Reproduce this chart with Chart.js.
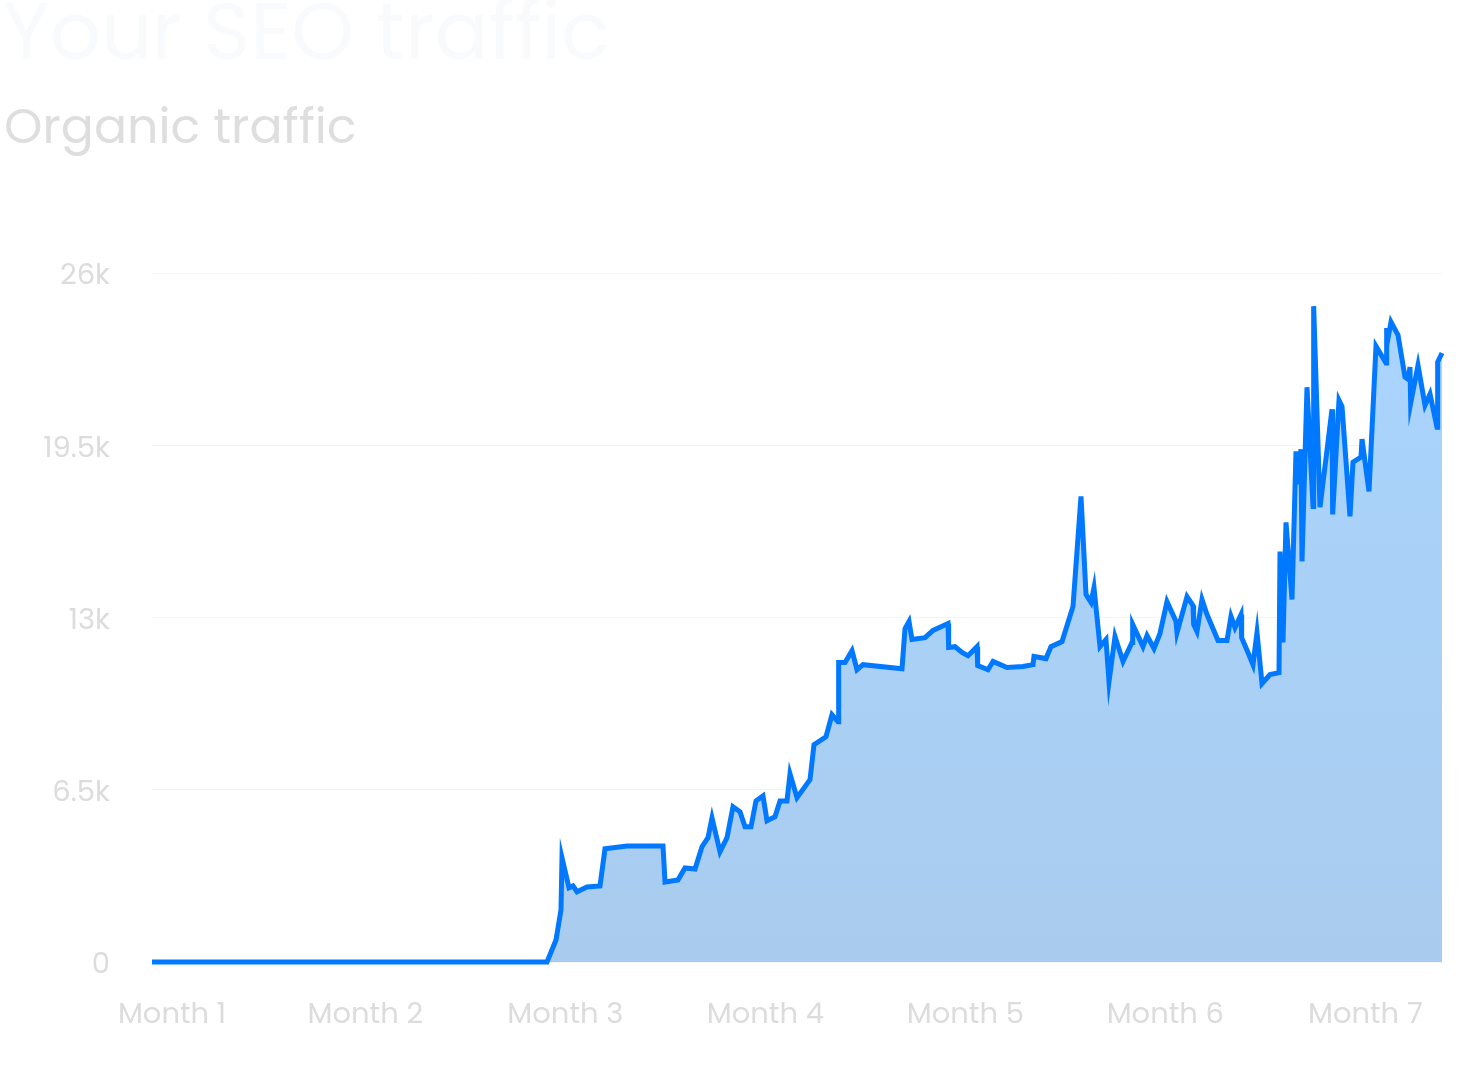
<!DOCTYPE html>
<html>
<head>
<meta charset="utf-8">
<script src="https://cdn.jsdelivr.net/npm/chart.js"></script>
<style>
  body { margin: 0; background: #fff; font-family: Poppins, Inter, sans-serif; }
  .wrap { position: relative; width: 1472px; height: 1084px; overflow: hidden; }
  .title { position: absolute; left: 3px; top: -9px; font-size: 80px; line-height: 1; color: #f9fafc; white-space: nowrap; }
  .subtitle { position: absolute; left: 4px; top: 102px; font-size: 49px; line-height: 1; color: #dedede; white-space: nowrap; }
  #chartBox { position: absolute; left: 0; top: 0; width: 1472px; height: 1084px; }
</style>
</head>
<body>
<div class="wrap">
  <div class="title">Your SEO traffic</div>
  <div class="subtitle">Organic traffic</div>
  <div id="chartBox"><canvas id="trafficChart"></canvas></div>
</div>
<script>
// x positions in days since start
const days = [
  0, 59.25, 60.6, 61.35, 61.5, 62.55, 63.15, 63.75, 65.25, 67.2,
  67.95, 71.25, 76.65, 76.95, 78.9, 79.95, 81.45, 82.5, 83.4, 84,
  85.2, 86.25, 87.15, 88.2, 88.95, 89.85, 90.6, 91.65, 92.25, 93.45,
  94.2, 95.25, 95.7, 96.75, 98.7, 99.3, 101.1, 102, 102.9, 103,
  103.95, 105, 105.75, 106.65, 112.5, 112.95, 113.55, 114, 115.95, 117.15,
  119.4, 119.5, 120.45, 121.5, 122.4, 123.75, 123.85, 125.4, 126.15, 128.25,
  130.65, 132.15, 132.3, 134.1, 134.85, 136.5, 137.4, 138.15, 139.35, 140.1,
  140.85, 141.3, 142.2, 143.1, 143.55, 144.45, 145.65, 147, 147.1, 148.65,
  149.25, 150.3, 151.2, 152.25, 153.6, 153.75, 155.25, 156.15, 156.25, 156.75,
  157.5, 158.25, 159.9, 161.25, 161.85, 162.45, 163.35, 163.45, 164.4, 165.15,
  165.75, 166.5, 167.7, 169.05, 169.2, 169.65, 170.1, 171, 171.6, 171.9,
  172.35, 172.5, 173.25, 174.15, 174.25, 175.2, 177, 177.1, 178.05, 178.5,
  179.7, 180.15, 181.35, 181.5, 182.55, 183.6, 185.1, 185.2, 185.4, 185.85,
  186.9, 187.95, 188.4, 188.7, 188.8, 189.9, 190.95, 191.7, 192.75, 192.85,
  193.5
];
const traffic = [
  0, 0, 830, 1970, 3930, 2800, 2870, 2650, 2830, 2870,
  4270, 4380, 4380, 3020, 3100, 3550, 3510, 4350, 4690, 5440,
  4160, 4690, 5860, 5670, 5100, 5100, 6080, 6270, 5330, 5480,
  6080, 6080, 7100, 6200, 6880, 8200, 8500, 9330, 9070, 11300,
  11300, 11750, 11030, 11220, 11070, 12580, 12850, 12170, 12240, 12510,
  12770, 11870, 11900, 11680, 11560, 11900, 11190, 11030, 11340, 11110,
  11150, 11220, 11530, 11450, 11900, 12090, 12810, 13420, 17570, 13870,
  13570, 14130, 11900, 12170, 10580, 12280, 11340, 12060, 12740, 11900,
  12320, 11830, 12400, 13600, 12850, 12430, 13790, 13450, 12740, 12470,
  13680, 13110, 12130, 12130, 13040, 12620, 13110, 12240, 11680, 11220,
  12430, 10510, 10850, 10920, 15490, 12060, 16590, 13680, 19270, 18030,
  19350, 15120, 21690, 17190, 24750, 17160, 20860, 16890, 21200, 20970,
  16820, 18860, 19050, 19730, 17760, 23240, 22600, 23920, 23540, 24150,
  23660, 22070, 21990, 22450, 21090, 22520, 21010, 21430, 20180, 22640,
  22980
];
const monthLabels = ['Month 1', 'Month 2', 'Month 3', 'Month 4', 'Month 5', 'Month 6', 'Month 7'];
const monthTicks = [3, 32, 62, 92, 122, 152, 182];
const yTicks = [0, 6500, 13000, 19500, 26000];

const tickFont = { family: 'Poppins, Inter, sans-serif', size: 29 };

const ctx = document.getElementById('trafficChart');
new Chart(ctx, {
  type: 'line',
  data: {
    datasets: [{
      data: days.map((d, i) => ({ x: d, y: traffic[i] })),
      borderColor: '#0078ff',
      borderWidth: 5,
      pointRadius: 0,
      tension: 0,
      clip: false,
      fill: 'origin',
      backgroundColor: (c) => {
        const area = c.chart.chartArea;
        if (!area) return '#a9d2fc';
        const g = c.chart.ctx.createLinearGradient(0, area.top, 0, area.bottom);
        g.addColorStop(0, '#a9d5ff');
        g.addColorStop(1, '#a9ccee');
        return g;
      },
    }],
  },
  options: {
    responsive: true,
    maintainAspectRatio: false,
    animation: false,
    layout: { padding: { top: 273, right: 30, left: 0, bottom: 0 } },
    plugins: { legend: { display: false }, tooltip: { enabled: false } },
    scales: {
      x: {
        type: 'linear',
        min: 0,
        max: 193.5,
        grid: { display: false, drawTicks: false },
        border: { display: false },
        afterBuildTicks: (s) => { s.ticks = monthTicks.map(v => ({ value: v })); },
        afterFit: (s) => { s.height = 122; },
        ticks: {
          font: tickFont,
          color: '#dcdcdc',
          padding: 36,
          maxRotation: 0,
          autoSkip: false,
          callback: (v) => monthLabels[monthTicks.indexOf(v)],
        },
      },
      y: {
        min: 0,
        max: 26000,
        grid: { color: '#f4f4f4', lineWidth: 1, drawTicks: false },
        border: { display: false },
        afterBuildTicks: (s) => { s.ticks = yTicks.map(v => ({ value: v })); },
        afterFit: (s) => { s.width = 152; },
        ticks: {
          font: tickFont,
          color: '#dcdcdc',
          padding: 42,
          labelOffset: 4,
          callback: (v) => v === 0 ? '0' : (v / 1000) + 'k',
        },
      },
    },
  },
});
</script>
</body>
</html>
